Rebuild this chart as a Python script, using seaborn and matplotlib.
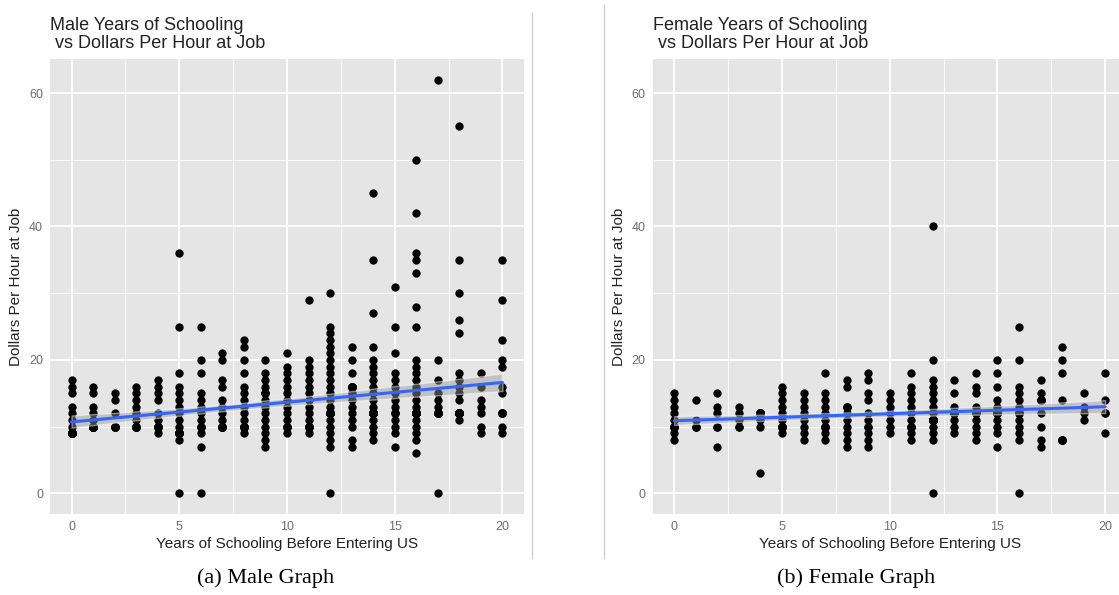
import numpy as np
import pandas as pd
import matplotlib
matplotlib.use("Agg")
import matplotlib.pyplot as plt
from matplotlib.lines import Line2D
import seaborn as sns

# years of schooling before entering the US (x columns)
years = list(range(21))

# dollars per hour at job, visible dots, one list per year of schooling
male_wages = [
    [17, 16, 15, 13, 12, 11, 10, 9],
    [16, 15, 13, 12, 11, 10],
    [15, 14, 12, 10],
    [16, 15, 14, 13, 12, 11, 10],
    [17, 16, 15, 14, 12, 11, 10, 9],
    [36, 25, 18, 16, 15, 14, 13, 12, 11, 10, 9, 8, 0],
    [25, 20, 18, 15, 14, 13, 12, 11, 10, 9, 7, 0],
    [21, 20, 17, 16, 14, 13, 12, 11, 10],
    [23, 22, 20, 18, 16, 15, 14, 13, 12, 11, 10, 9],
    [20, 18, 17, 16, 15, 14, 13, 12, 11, 10, 9, 8, 7],
    [21, 19, 18, 17, 16, 15, 14, 13, 12, 11, 10, 9],
    [29, 20, 19, 18, 17, 16, 15, 14, 13, 12, 11, 10, 9],
    [30, 25, 24, 23, 22, 21, 20, 19, 18, 17, 16, 15, 14, 13, 12, 11, 10, 9, 8, 7, 0],
    [22, 20, 18, 16, 15, 14, 13, 12, 11, 10, 8, 7],
    [45, 35, 27, 22, 20, 19, 18, 17, 16, 15, 14, 13, 12, 11, 10, 9, 8],
    [31, 25, 21, 18, 17, 16, 15, 14, 13, 12, 11, 10, 9, 7],
    [50, 42, 36, 35, 33, 28, 25, 20, 19, 18, 17, 16, 15, 14, 13, 12, 11, 10, 9, 8, 6],
    [62, 20, 17, 15, 14, 13, 12, 0],
    [55, 35, 30, 26, 24, 18, 17, 16, 15, 14, 12, 11],
    [18, 16, 14, 13, 12, 10, 9],
    [35, 29, 23, 20, 19, 16, 15, 12, 10, 9],
]
# estimated respondents hidden under an existing dot (wage, how many)
male_hidden_wage = [9, 10, 10, 10, 10, 9, 10, 10, 10, 15, 10,
                    10, 12, 16, 12, 12, 12, 12, 12, 12, 12]
male_hidden_count = [11, 13, 5, 7, 5, 9, 2, 7, 8, 2, 3,
                     5, 14, 7, 19, 2, 31, 7, 19, 0, 4]

female_wages = [
    [15, 14, 13, 12, 11, 10, 9, 8],
    [14, 11, 10],
    [15, 13, 12, 10, 7],
    [13, 12, 11, 10],
    [12, 11, 10, 3],
    [16, 15, 14, 13, 12, 11, 10, 9],
    [15, 14, 13, 12, 11, 10, 9, 8],
    [18, 15, 14, 13, 12, 11, 10, 9, 8],
    [17, 16, 13, 12, 11, 10, 9, 8, 7],
    [18, 17, 15, 14, 12, 11, 10, 9, 8, 7],
    [15, 14, 13, 12, 11, 10, 9],
    [18, 16, 15, 14, 13, 12, 11, 10, 9, 8],
    [40, 20, 17, 16, 15, 14, 13, 12, 11, 10, 9, 8, 0],
    [17, 15, 13, 12, 11, 10, 9],
    [18, 16, 15, 13, 12, 11, 10, 9, 8],
    [20, 18, 16, 14, 13, 12, 11, 10, 9, 7],
    [25, 20, 16, 15, 14, 13, 12, 11, 10, 9, 8, 0],
    [17, 15, 14, 12, 10, 8, 7],
    [22, 20, 18, 14, 8],
    [15, 13, 12, 11],
    [18, 14, 12, 9],
]
female_hidden_wage = [10, 10, 10, 10, 12, 10, 12, 10, 13, 10, 12,
                      10, 11, 12, 12, 12, 12, 14, 8, 12, 12]
female_hidden_count = [5, 2, 1, 1, 8, 6, 0, 3, 2, 1, 0,
                       3, 23, 4, 3, 11, 4, 4, 4, 0, 1]

x_ticks = [0, 5, 10, 15, 20]
y_ticks = [0, 20, 40, 60]


def to_frame(wages, hidden_wage, hidden_count):
    rows = []
    for yr, col, hw, hc in zip(years, wages, hidden_wage, hidden_count):
        for w in list(col) + [hw] * hc:
            rows.append((yr, w))
    return pd.DataFrame(rows, columns=["years", "wage"])


sns.set_theme(style="darkgrid", rc={
    "axes.facecolor": "#E5E5E5",
    "grid.color": "white",
    "axes.edgecolor": "none",
})
plt.rcParams["font.family"] = ["Liberation Sans", "DejaVu Sans"]

fig = plt.figure(figsize=(11.19, 5.95), dpi=100)
W, H = 1119, 595


def draw_panel(left_px, df, title, caption, cap_x):
    ax = fig.add_axes([left_px / W, 1 - 514 / H, 474 / W, 455 / H])
    sns.scatterplot(data=df, x="years", y="wage", ax=ax, color="black",
                    s=36, linewidth=0)
    sns.regplot(data=df, x="years", y="wage", ax=ax, scatter=False,
                color="#3366FF", line_kws={"lw": 2.2}, seed=0)
    band = ax.collections[-1]
    band.set_facecolor("#999999")
    band.set_alpha(0.45)

    ax.set_xlim(-1, 21)
    ax.set_ylim(-3.1, 65.1)
    ax.set_xticks(x_ticks)
    ax.set_yticks(y_ticks)
    ax.set_xticks([2.5, 7.5, 12.5, 17.5], minor=True)
    ax.set_yticks([10, 30, 50], minor=True)
    ax.grid(which="major", color="white", lw=1.3)
    ax.grid(which="minor", color="white", lw=0.6)
    ax.tick_params(which="major", length=3, width=0.9, color="#555555",
                   labelsize=9, labelcolor="#6e6e6e", pad=2)
    ax.tick_params(which="minor", length=0)
    ax.set_xlabel("Years of Schooling Before Entering US", fontsize=11,
                  color="#222222", labelpad=3)
    ax.set_ylabel("Dollars Per Hour at Job", fontsize=11, color="#222222",
                  labelpad=4)
    ax.set_title(title, loc="left", fontsize=13, color="#222222",
                 linespacing=1.05, pad=8)
    fig.text(cap_x / W, 1 - 578 / H, caption, ha="center", va="center",
             fontsize=16, family="Liberation Serif", color="black")
    return ax


male_df = to_frame(male_wages, male_hidden_wage, male_hidden_count)
female_df = to_frame(female_wages, female_hidden_wage, female_hidden_count)

draw_panel(50, male_df, "Male Years of Schooling\n vs Dollars Per Hour at Job",
           "(a) Male Graph", 266)
draw_panel(652.7, female_df, "Female Years of Schooling\n vs Dollars Per Hour at Job",
           "(b) Female Graph", 856)

# subfigure borders
for xp, y0 in [(531.5, 13), (604, 5)]:
    fig.add_artist(Line2D([xp / W, xp / W], [1 - y0 / H, 1 - 558 / H],
                          color="#cfcfcf", lw=1))

fig.savefig("out.png", dpi=100)
